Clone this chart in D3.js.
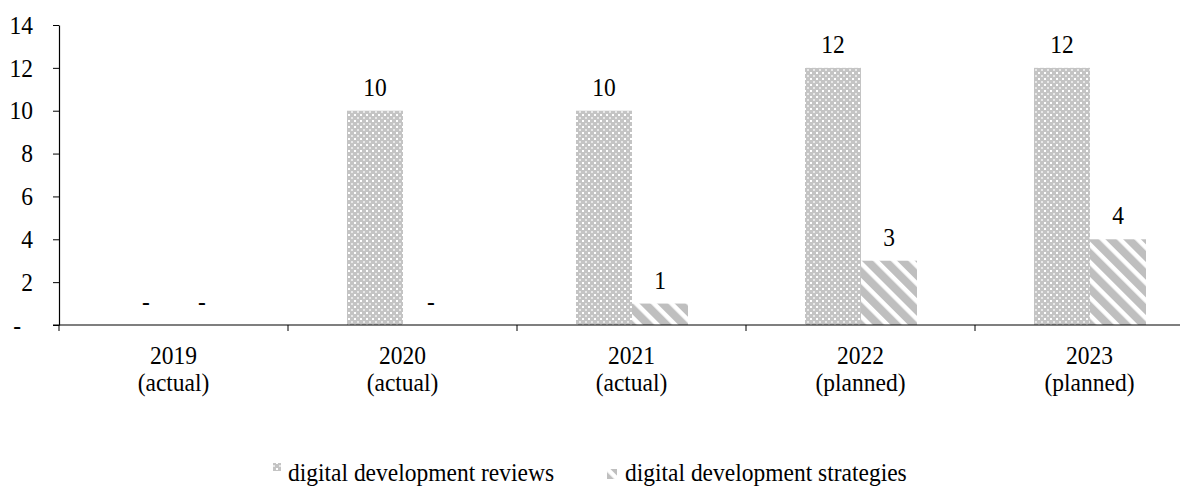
<!DOCTYPE html>
<html>
<head>
<meta charset="utf-8">
<script src="https://cdn.jsdelivr.net/npm/d3@7"></script>
<style>
  html, body { margin: 0; padding: 0; background: #fff; }
  svg { display: block; font-family: "Liberation Serif", "Times New Roman", serif; }
</style>
</head>
<body>
<svg id="chart" width="1193" height="488"></svg>
<script>
// Digital development reviews and strategies per year
const years = ["2019", "2020", "2021", "2022", "2023"];
const statuses = ["(actual)", "(actual)", "(actual)", "(planned)", "(planned)"];
const reviews = [0, 10, 10, 12, 12];
const strategies = [0, 0, 1, 3, 4];
const seriesNames = ["digital development reviews", "digital development strategies"];
const yTicks = [0, 2, 4, 6, 8, 10, 12, 14];

const svg = d3.select("#chart");
const fontSize = 23.5;
const stretch = 1.1; // text is drawn slightly taller than wide

// place a text at (x, y) baseline with the vertical stretch applied
function placeText(sel, fx, fy) {
  sel.attr("x", 0).attr("y", 0)
    .attr("transform", (d, i) => `translate(${fx(d, i)},${fy(d, i)}) scale(1,${stretch})`);
  return sel;
}

// Fill patterns
const defs = svg.append("defs");
const dots = defs.append("pattern")
  .attr("id", "pat-reviews")
  .attr("patternUnits", "userSpaceOnUse")
  .attr("width", 6).attr("height", 6);
dots.append("rect").attr("width", 6).attr("height", 6).attr("fill", "#c4c4c4");
dots.append("rect").attr("x", 0).attr("y", 0).attr("width", 2).attr("height", 2).attr("fill", "#ffffff");
dots.append("rect").attr("x", 3).attr("y", 3).attr("width", 2).attr("height", 2).attr("fill", "#e8e8e8");

const stripes = defs.append("pattern")
  .attr("id", "pat-strategies")
  .attr("patternUnits", "userSpaceOnUse")
  .attr("width", 12.5).attr("height", 12.5)
  .attr("patternTransform", "rotate(-45)");
stripes.append("rect").attr("width", 12.5).attr("height", 12.5).attr("fill", "#ffffff");
stripes.append("rect").attr("width", 8).attr("height", 12.5).attr("fill", "#bfbfbf");

const fills = ["url(#pat-reviews)", "url(#pat-strategies)"];

// Scales
const x = d3.scaleBand().domain(years).range([59, 1204]).padding(0);
const inner = d3.scaleBand().domain([0, 1]).range([59, 171]).padding(0);
const y = d3.scaleLinear().domain([0, 14]).range([325, 25]);

// Y axis
const yAxis = svg.append("g")
  .attr("transform", "translate(59,0)")
  .call(d3.axisLeft(y).tickValues(yTicks).tickSize(6).tickSizeOuter(0).tickPadding(20)
    .tickFormat(d => d === 0 ? "-" : d));
yAxis.select(".domain").attr("stroke", "#000").attr("stroke-width", 1.2);
yAxis.selectAll(".tick line").attr("stroke", "#000");
yAxis.selectAll(".tick text")
  .attr("font-size", fontSize)
  .attr("font-family", "Liberation Serif")
  .attr("fill", "#000")
  .attr("dy", "0.32em")
  .attr("transform", d => `translate(${d === 0 ? -12 : 0},0) scale(1,${stretch})`);

// Bars and value labels
const series = [reviews, strategies];
series.forEach((vals, si) => {
  const rows = years.map((yr, i) => ({ yr, v: vals[i] }));
  svg.append("g").selectAll("rect")
    .data(rows)
    .join("rect")
    .attr("x", d => x(d.yr) + inner(si))
    .attr("y", d => y(d.v))
    .attr("width", inner.bandwidth())
    .attr("height", d => y(0) - y(d.v))
    .attr("fill", fills[si]);

  svg.append("g").selectAll("text")
    .data(rows)
    .join("text")
    .call(placeText,
      d => x(d.yr) + inner(si) + inner.bandwidth() / 2,
      d => y(d.v) - 15)
    .attr("text-anchor", "middle")
    .attr("font-size", fontSize)
    .attr("fill", "#000")
    .text(d => d.v === 0 ? "-" : d.v);
});

// X axis
const xAxis = svg.append("g");
xAxis.append("line")
  .attr("x1", 53).attr("x2", 1180)
  .attr("y1", y(0)).attr("y2", y(0))
  .attr("stroke", "#000").attr("stroke-width", 1.2);
xAxis.selectAll("line.tick")
  .data(years.map(d => x(d)))
  .join("line")
  .attr("class", "tick")
  .attr("x1", d => d).attr("x2", d => d)
  .attr("y1", y(0)).attr("y2", y(0) + 6)
  .attr("stroke", "#000");
const labelRows = years.map((yr, i) => ({ yr, st: statuses[i] }));
xAxis.append("g").selectAll("text")
  .data(labelRows)
  .join("text")
  .call(placeText, d => x(d.yr) + x.bandwidth() / 2, () => 364)
  .attr("text-anchor", "middle")
  .attr("font-size", fontSize)
  .attr("fill", "#000")
  .text(d => d.yr);
xAxis.append("g").selectAll("text")
  .data(labelRows)
  .join("text")
  .call(placeText, d => x(d.yr) + x.bandwidth() / 2, () => 391)
  .attr("text-anchor", "middle")
  .attr("font-size", fontSize)
  .attr("fill", "#000")
  .text(d => d.st);

// Legend
const legendX = [273, 607];
const legendY = [463, 469];
const legendSize = [8, 10];
const legend = svg.append("g");
seriesNames.forEach((name, i) => {
  legend.append("rect")
    .attr("x", legendX[i]).attr("y", legendY[i])
    .attr("width", legendSize[i]).attr("height", legendSize[i])
    .attr("fill", fills[i]);
  legend.append("text")
    .datum(name)
    .call(placeText, () => [288, 625][i], () => 481)
    .attr("font-size", fontSize)
    .attr("fill", "#000")
    .text(name);
});
</script>
</body>
</html>
